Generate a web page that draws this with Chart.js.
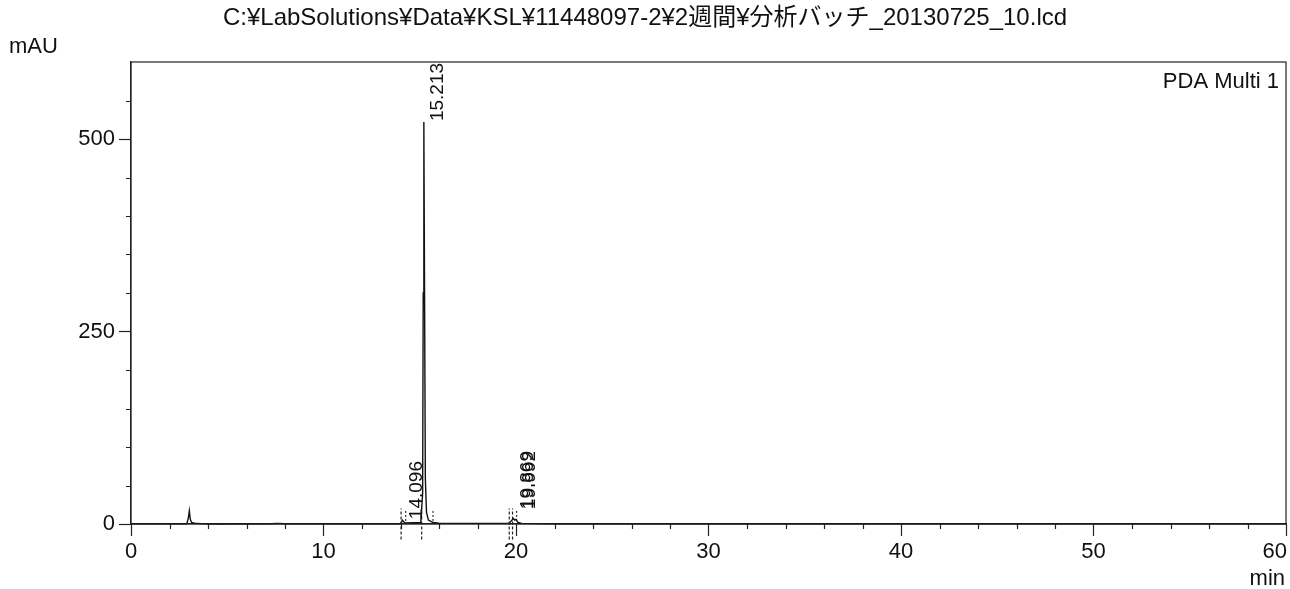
<!DOCTYPE html>
<html>
<head>
<meta charset="utf-8">
<script src="https://cdn.jsdelivr.net/npm/chart.js@4.4.1/dist/chart.umd.min.js"></script>
<style>
  html, body { margin: 0; padding: 0; background: #fff; }
  #wrap { width: 1290px; height: 589px; }
</style>
</head>
<body>
<div id="wrap"><canvas id="chrom" width="1290" height="589"></canvas></div>
<script>
// chromatogram trace (min, mAU)
const times = [0, 2.9, 2.98, 3.03, 3.08, 3.15, 3.3, 3.6, 4.2, 7.3, 7.6, 8.0, 13.95, 14.03, 14.096, 14.2, 14.27,
  15.05, 15.15, 15.18, 15.213, 15.25, 15.29, 15.35, 15.45, 15.6, 15.69, 16.0,
  19.65, 19.75, 19.869, 19.93, 19.992, 20.1, 20.3, 22.0, 60.0];
const absorbance = [0.3, 0.3, 8, 17, 6, 2, 1, 0.5, 0, 0.3, 0.8, 0.3, 0.3, 1, 5, 2, 1.5,
  2, 40, 300, 522, 300, 60, 15, 5, 3, 2, 1,
  0.8, 4, 7, 5, 6, 2, 0.8, 0.4, 0.2];

// labelled peaks
const peakTimes = [14.096, 15.213, 19.869, 19.992];
const peakNames = ['14.096', '15.213', '19.869', '19.992'];
const peakTops = [5, 522, 18, 18];

// integration start/end markers
const longMarks = [14.03, 15.10, 19.65, 19.82];
const shortMarks = [14.27, 15.69, 20.03];

const xTickLabels = [0, 10, 20, 30, 40, 50, 60];
const yTickLabels = [0, 250, 500];

const title = 'C:¥LabSolutions¥Data¥KSL¥11448097-2¥2週間¥分析バッチ_20130725_10.lcd';
const FONT = '"Liberation Sans", Arial, "Noto Sans CJK JP", sans-serif';

const markerSets = [];
longMarks.forEach(t => markerSets.push({
  data: [{x: t, y: -20}, {x: t, y: 20}],
  borderColor: '#222', borderWidth: 1.2, borderDash: [3, 2], pointRadius: 0, clip: false
}));
shortMarks.forEach(t => markerSets.push({
  data: [{x: t, y: 4}, {x: t, y: 17}],
  borderColor: '#333', borderWidth: 1.2, borderDash: [2, 2], pointRadius: 0, clip: false
}));

const decorations = {
  id: 'decorations',
  afterDraw(chart) {
    const {ctx, chartArea: a, scales: {x, y}} = chart;
    ctx.save();
    ctx.strokeStyle = '#222';
    ctx.lineWidth = 1.2;
    ctx.strokeRect(a.left, a.top, a.right - a.left, a.bottom - a.top);

    // minor ticks
    ctx.beginPath();
    for (let v = 50; v < 600; v += 50) {
      if (yTickLabels.includes(v)) continue;
      const py = Math.round(y.getPixelForValue(v)) + 0.5;
      ctx.moveTo(a.left - 5, py); ctx.lineTo(a.left, py);
    }
    for (let v = 2; v < 60; v += 2) {
      if (v % 10 === 0) continue;
      const px = Math.round(x.getPixelForValue(v)) + 0.5;
      ctx.moveTo(px, a.bottom); ctx.lineTo(px, a.bottom + 5);
    }
    ctx.stroke();

    ctx.fillStyle = '#111';
    ctx.font = '24px ' + FONT;
    ctx.textAlign = 'center';
    ctx.textBaseline = 'middle';
    ctx.fillText(title, 645, 18);

    // x tick labels; the last one is kept inside the frame
    ctx.font = '22px ' + FONT;
    xTickLabels.forEach((v, i) => {
      const last = i === xTickLabels.length - 1;
      ctx.textAlign = last ? 'right' : 'center';
      ctx.fillText(String(v), x.getPixelForValue(v) + (last ? 1 : 0), a.bottom + 28);
    });

    ctx.textAlign = 'left';
    ctx.fillText('mAU', 9, 47);
    ctx.textAlign = 'right';
    ctx.fillText('min', 1285, 579);
    ctx.fillText('PDA Multi 1', 1279, 82);

    // peak labels
    ctx.font = '19px ' + FONT;
    ctx.textAlign = 'left';
    peakTimes.forEach((t, i) => {
      const px = x.getPixelForValue(t) + 14;
      const py = y.getPixelForValue(peakTops[i]) - 1;
      ctx.save();
      ctx.translate(px, py);
      ctx.rotate(-Math.PI / 2);
      ctx.fillText(peakNames[i], 0, 0);
      ctx.restore();
    });
    ctx.restore();
  }
};

new Chart(document.getElementById('chrom'), {
  type: 'line',
  data: {
    datasets: [{
      data: times.map((t, i) => ({x: t, y: absorbance[i]})),
      borderColor: '#111', borderWidth: 1.4, pointRadius: 0, tension: 0, clip: false
    }].concat(markerSets)
  },
  options: {
    responsive: false,
    animation: false,
    layout: { padding: { top: 62, right: 4, left: 0, bottom: 0 } },
    plugins: { legend: { display: false }, tooltip: { enabled: false }, title: { display: false } },
    scales: {
      x: {
        type: 'linear', min: 0, max: 60,
        afterBuildTicks: s => { s.ticks = xTickLabels.map(v => ({value: v})); },
        afterFit: s => { s.height = 65; s.paddingLeft = 0; s.paddingRight = 0; },
        grid: { drawOnChartArea: false, tickLength: 12, color: '#222', tickWidth: 1.2 },
        border: { color: '#222', width: 1.2 },
        ticks: { display: false }
      },
      y: {
        type: 'linear', min: 0, max: 600,
        afterBuildTicks: s => { s.ticks = yTickLabels.map(v => ({value: v})); },
        afterFit: s => { s.width = 131; s.paddingTop = 0; s.paddingBottom = 0; },
        grid: { drawOnChartArea: false, tickLength: 12, color: '#222', tickWidth: 1.2 },
        border: { color: '#222', width: 1.2 },
        ticks: { color: '#111', font: { family: FONT, size: 22 }, padding: 4 }
      }
    }
  },
  plugins: [decorations]
});
</script>
</body>
</html>
